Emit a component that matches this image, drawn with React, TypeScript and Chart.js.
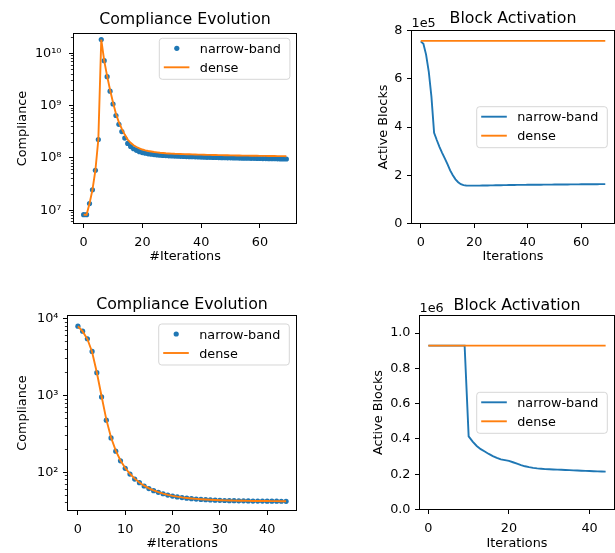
import React, { useEffect, useRef } from 'react';
import { Chart, registerables } from 'chart.js';

Chart.register(...registerables);

const FONT = "'DejaVu Sans', sans-serif";
const BLUE = '#1f77b4';
const ORANGE = '#ff7f0e';

// ---------- DATA ----------
const SERIES_NAMES = ['narrow-band', 'dense'];

// Top-left: Compliance Evolution (70 iterations)
const TL_NARROW = [
  8.2e6, 8.2e6, 1.34e7, 2.45e7, 5.8e7, 2.25e8, 1.85e10, 7.3e9, 3.6e9, 1.9e9,
  1.08e9, 6.5e8, 4.4e8, 3.2e8, 2.4e8, 1.9e8, 1.65e8, 1.5e8, 1.4e8, 1.32e8,
  1.27e8, 1.23e8, 1.2e8, 1.18e8, 1.16e8, 1.14e8, 1.13e8, 1.12e8, 1.11e8, 1.1e8,
  1.09e8, 1.085e8, 1.08e8, 1.075e8, 1.07e8, 1.065e8, 1.06e8, 1.055e8, 1.05e8, 1.045e8,
  1.04e8, 1.035e8, 1.03e8, 1.027e8, 1.024e8, 1.02e8, 1.017e8, 1.014e8, 1.01e8, 1.007e8,
  1.004e8, 1.0e8, 0.998e8, 0.995e8, 0.992e8, 0.99e8, 0.987e8, 0.985e8, 0.982e8, 0.98e8,
  0.977e8, 0.975e8, 0.972e8, 0.97e8, 0.967e8, 0.965e8, 0.962e8, 0.96e8, 0.957e8, 0.955e8,
];
const TL_DENSE = [
  8.2e6, 8.2e6, 1.34e7, 2.45e7, 5.8e7, 2.25e8, 1.85e10, 7.3e9, 3.7e9, 2.0e9,
  1.15e9, 7.0e8, 4.8e8, 3.6e8, 2.8e8, 2.25e8, 1.95e8, 1.75e8, 1.62e8, 1.52e8,
  1.45e8, 1.4e8, 1.36e8, 1.33e8, 1.3e8, 1.28e8, 1.26e8, 1.245e8, 1.23e8, 1.22e8,
  1.21e8, 1.2e8, 1.195e8, 1.19e8, 1.185e8, 1.18e8, 1.175e8, 1.17e8, 1.165e8, 1.16e8,
  1.156e8, 1.152e8, 1.148e8, 1.144e8, 1.14e8, 1.137e8, 1.134e8, 1.131e8, 1.128e8, 1.125e8,
  1.122e8, 1.119e8, 1.116e8, 1.113e8, 1.11e8, 1.108e8, 1.106e8, 1.104e8, 1.102e8, 1.1e8,
  1.098e8, 1.096e8, 1.094e8, 1.092e8, 1.09e8, 1.088e8, 1.086e8, 1.084e8, 1.082e8, 1.08e8,
];

// Top-right: Block Activation (70 iterations)
const TR_NARROW = [
  755000, 745000, 700000, 630000, 526000, 376000, 346000, 318000, 293000, 270000,
  246000, 220000, 200000, 183000, 171000, 163000, 159000, 157500, 157000, 157000,
  157000, 157000, 157200, 157400, 157600, 157800, 158000, 158200, 158400, 158600,
  158800, 159000, 159200, 159400, 159600, 159800, 160000, 160100, 160200, 160300,
  160400, 160500, 160600, 160700, 160800, 160900, 161000, 161100, 161200, 161300,
  161400, 161500, 161600, 161700, 161800, 161900, 162000, 162100, 162200, 162300,
  162400, 162500, 162600, 162700, 162800, 162900, 163000, 163100, 163200, 163300,
];
const TR_DENSE = [
  757000, 757000, 757000, 757000, 757000, 757000, 757000, 757000, 757000, 757000,
  757000, 757000, 757000, 757000, 757000, 757000, 757000, 757000, 757000, 757000,
  757000, 757000, 757000, 757000, 757000, 757000, 757000, 757000, 757000, 757000,
  757000, 757000, 757000, 757000, 757000, 757000, 757000, 757000, 757000, 757000,
  757000, 757000, 757000, 757000, 757000, 757000, 757000, 757000, 757000, 757000,
  757000, 757000, 757000, 757000, 757000, 757000, 757000, 757000, 757000, 757000,
  757000, 757000, 757000, 757000, 757000, 757000, 757000, 757000, 757000, 757000,
];

// Bottom-left: Compliance Evolution (45 iterations)
const BL_NARROW = [
  8020, 6900, 5500, 3760, 1990, 960, 478, 281, 189, 141.6,
  113, 95, 82, 73.4, 66.5, 61.5, 57.8, 55, 52.7, 50.7,
  49.2, 48, 47, 46.2, 45.5, 45, 44.5, 44.1, 43.8, 43.5,
  43.3, 43.1, 42.9, 42.8, 42.7, 42.6, 42.5, 42.4, 42.35, 42.3,
  42.25, 42.2, 42.15, 42.1, 42.05,
];
const BL_DENSE = [
  8000, 6850, 5450, 3700, 2000, 980, 490, 285, 192, 143,
  114, 96, 83, 74, 67.2, 62, 58.3, 55.4, 53, 51,
  49.5, 48.3, 47.3, 46.5, 45.8, 45.2, 44.7, 44.3, 44, 43.7,
  43.4, 43.2, 43, 42.9, 42.8, 42.7, 42.6, 42.5, 42.45, 42.4,
  42.35, 42.3, 42.25, 42.2, 42.15,
];

// Bottom-right: Block Activation (45 iterations)
const BR_NARROW = [
  929000, 929000, 929000, 929000, 929000, 929000, 929000, 929000, 929000, 929000,
  415000, 385000, 360000, 342000, 329000, 315000, 303000, 293000, 284000, 280000,
  276000, 268000, 260000, 252000, 245000, 240000, 236000, 233000, 231000, 229000,
  228000, 227000, 226000, 225000, 224000, 223000, 222000, 221000, 220000, 219000,
  218000, 217000, 216000, 215500, 215000,
];
const BR_DENSE = [
  929000, 929000, 929000, 929000, 929000, 929000, 929000, 929000, 929000, 929000,
  929000, 929000, 929000, 929000, 929000, 929000, 929000, 929000, 929000, 929000,
  929000, 929000, 929000, 929000, 929000, 929000, 929000, 929000, 929000, 929000,
  929000, 929000, 929000, 929000, 929000, 929000, 929000, 929000, 929000, 929000,
  929000, 929000, 929000, 929000, 929000,
];

// Tick values
const X_TICKS_70 = [0, 20, 40, 60];
const X_TICKS_BL = [0, 10, 20, 30, 40];
const X_TICKS_BR = [0, 20, 40];
const TL_LOG_MAJOR = [1e7, 1e8, 1e9, 1e10];
const TL_LOG_MINOR = [
  6e6, 7e6, 8e6, 9e6,
  2e7, 3e7, 4e7, 5e7, 6e7, 7e7, 8e7, 9e7,
  2e8, 3e8, 4e8, 5e8, 6e8, 7e8, 8e8, 9e8,
  2e9, 3e9, 4e9, 5e9, 6e9, 7e9, 8e9, 9e9,
  2e10,
];
const BL_LOG_MAJOR = [1e2, 1e3, 1e4];
const BL_LOG_MINOR = [
  40, 50, 60, 70, 80, 90,
  200, 300, 400, 500, 600, 700, 800, 900,
  2000, 3000, 4000, 5000, 6000, 7000, 8000, 9000,
];
const TR_Y_TICKS = [0, 200000, 400000, 600000, 800000];
const BR_Y_TICKS = [0, 200000, 400000, 600000, 800000, 1000000];
const SUPER: Record<string, string> = {
  '0': '\u2070', '1': '\u00B9', '2': '\u00B2', '3': '\u00B3', '4': '\u2074',
  '5': '\u2075', '6': '\u2076', '7': '\u2077', '8': '\u2078', '9': '\u2079',
};
const powLabel = (v: number) => {
  const e = Math.round(Math.log10(v));
  return '10' + String(e).split('').map((c) => SUPER[c]).join('');
};

type PanelCfg = {
  box: [number, number, number, number];
  area: [number, number, number, number];
  xMin: number; xMax: number; xTicks: number[];
  yLog: boolean; yMin: number; yMax: number;
  yMajor: number[]; yMinor: number[];
  yLabelFn: (v: number) => string; yPad: number;
  narrow: number[]; dense: number[]; dots: boolean;
  title: string; titleY: number;
  xLabel: string; xLabelY: number;
  yLabel: string; yLabelX: number;
  offsetText?: string;
  legend: { x: number; y: number };
};

const PANELS: PanelCfg[] = [
  {
    box: [0, 0, 307, 276], area: [73.5, 33.5, 296.5, 223.5],
    xMin: -3.45, xMax: 72.45, xTicks: X_TICKS_70,
    yLog: true, yMin: Math.pow(10, 6.745), yMax: Math.pow(10, 10.383),
    yMajor: TL_LOG_MAJOR, yMinor: TL_LOG_MINOR, yLabelFn: powLabel, yPad: 12,
    narrow: TL_NARROW, dense: TL_DENSE, dots: true,
    title: 'Compliance Evolution', titleY: 24,
    xLabel: '#Iterations', xLabelY: 260,
    yLabel: 'Compliance', yLabelX: 26,
    legend: { x: 159.3, y: 38.3 },
  },
  {
    box: [307, 0, 308, 276], area: [411.5, 30.5, 614.5, 223.5],
    xMin: -3.45, xMax: 72.45, xTicks: X_TICKS_70,
    yLog: false, yMin: 0, yMax: 800000,
    yMajor: TR_Y_TICKS, yMinor: [], yLabelFn: (v) => String(Math.round(v / 1e5)), yPad: 9,
    narrow: TR_NARROW, dense: TR_DENSE, dots: false,
    title: 'Block Activation', titleY: 22.5,
    xLabel: 'Iterations', xLabelY: 260,
    yLabel: 'Active Blocks', yLabelX: 386.5,
    offsetText: '1e5',
    legend: { x: 476.7, y: 106.7 },
  },
  {
    box: [0, 276, 307, 277], area: [67.5, 315.5, 296.5, 510.5],
    xMin: -2.2, xMax: 46.2, xTicks: X_TICKS_BL,
    yLog: true, yMin: Math.pow(10, 1.504), yMax: Math.pow(10, 4.043),
    yMajor: BL_LOG_MAJOR, yMinor: BL_LOG_MINOR, yLabelFn: powLabel, yPad: 9,
    narrow: BL_NARROW, dense: BL_DENSE, dots: true,
    title: 'Compliance Evolution', titleY: 309,
    xLabel: '#Iterations', xLabelY: 547,
    yLabel: 'Compliance', yLabelX: 26.3,
    legend: { x: 158.7, y: 324 },
  },
  {
    box: [307, 276, 308, 277], area: [419.5, 315.5, 614.5, 509.5],
    xMin: -2.2, xMax: 46.2, xTicks: X_TICKS_BR,
    yLog: false, yMin: 0, yMax: 1100000,
    yMajor: BR_Y_TICKS, yMinor: [], yLabelFn: (v) => (v / 1e6).toFixed(1), yPad: 9,
    narrow: BR_NARROW, dense: BR_DENSE, dots: false,
    title: 'Block Activation', titleY: 309.5,
    xLabel: 'Iterations', xLabelY: 546.5,
    yLabel: 'Active Blocks', yLabelX: 381.5,
    offsetText: '1e6',
    legend: { x: 476.7, y: 392.3 },
  },
];

function makeDecor(p: PanelCfg) {
  return {
    id: 'decor',
    afterDraw(chart: any) {
      const ctx: CanvasRenderingContext2D = chart.ctx;
      const a = chart.chartArea;
      const [cx, cy] = p.box;
      const xs = chart.scales.x;
      const ys = chart.scales.y;
      ctx.save();
      ctx.strokeStyle = '#000';
      ctx.fillStyle = '#000';
      // ticks
      ctx.lineWidth = 1;
      xs.ticks.forEach((t: any) => {
        const px = Math.round(xs.getPixelForValue(t.value) - 0.5) + 0.5;
        ctx.beginPath();
        ctx.moveTo(px, a.bottom);
        ctx.lineTo(px, a.bottom + 4.5);
        ctx.stroke();
      });
      ys.ticks.forEach((t: any) => {
        const major = p.yMajor.indexOf(t.value) >= 0;
        const py = Math.round(ys.getPixelForValue(t.value) - 0.5) + 0.5;
        ctx.lineWidth = major ? 1 : 0.8;
        ctx.beginPath();
        ctx.moveTo(a.left, py);
        ctx.lineTo(a.left - (major ? 4.5 : 2.6), py);
        ctx.stroke();
      });
      // frame
      ctx.lineWidth = 1;
      ctx.strokeRect(a.left, a.top, a.right - a.left, a.bottom - a.top);
      // title
      ctx.textAlign = 'center';
      ctx.textBaseline = 'alphabetic';
      ctx.font = `15.8px ${FONT}`;
      const midX = (a.left + a.right) / 2;
      ctx.fillText(p.title, midX, p.titleY - cy);
      // x label
      ctx.font = `12.8px ${FONT}`;
      ctx.fillText(p.xLabel, midX, p.xLabelY - cy);
      // y label
      ctx.save();
      ctx.translate(p.yLabelX - cx, (a.top + a.bottom) / 2);
      ctx.rotate(-Math.PI / 2);
      ctx.fillText(p.yLabel, 0, 0);
      ctx.restore();
      // offset text
      if (p.offsetText) {
        ctx.textAlign = 'left';
        ctx.fillText(p.offsetText, a.left, a.top - 3.5);
      }
      // legend
      const lx = p.legend.x - cx;
      const ly = p.legend.y - cy;
      const lw = 130.6;
      const lh = 41;
      ctx.beginPath();
      ctx.roundRect(lx, ly, lw, lh, 3);
      ctx.fillStyle = 'rgba(255,255,255,0.8)';
      ctx.fill();
      ctx.strokeStyle = 'rgba(204,204,204,0.8)';
      ctx.lineWidth = 1;
      ctx.stroke();
      const colors = [BLUE, ORANGE];
      SERIES_NAMES.forEach((name, i) => {
        const yy = ly + 10 + i * 19;
        if (i === 0 && p.dots) {
          ctx.fillStyle = BLUE;
          ctx.beginPath();
          ctx.arc(lx + 17.5, yy, 2.6, 0, Math.PI * 2);
          ctx.fill();
        } else {
          ctx.strokeStyle = colors[i];
          ctx.lineWidth = 1.9;
          ctx.beginPath();
          ctx.moveTo(lx + 4.5, yy);
          ctx.lineTo(lx + 30.1, yy);
          ctx.stroke();
        }
        ctx.fillStyle = '#000';
        ctx.textAlign = 'left';
        ctx.font = `12.8px ${FONT}`;
        ctx.fillText(name, lx + 40.5, yy + 4.5);
      });
      ctx.restore();
    },
  };
}

function makeChart(canvas: HTMLCanvasElement, p: PanelCfg) {
  const [cx, cy, cw, ch] = p.box;
  const [L, T, R, B] = p.area;
  const yTicks = p.yMajor.concat(p.yMinor).sort((m, n) => m - n);
  const narrowDs: any = {
    label: SERIES_NAMES[0],
    data: p.narrow.map((v, i) => ({ x: i, y: v })),
    order: 2,
    borderColor: BLUE,
    backgroundColor: BLUE,
    borderWidth: 1.9,
    tension: 0,
    showLine: !p.dots,
    pointRadius: p.dots ? 2.6 : 0,
    pointBorderWidth: 0,
    pointBackgroundColor: BLUE,
    fill: false,
  };
  const denseDs: any = {
    label: SERIES_NAMES[1],
    data: p.dense.map((v, i) => ({ x: i, y: v })),
    order: 1,
    borderColor: ORANGE,
    backgroundColor: ORANGE,
    borderWidth: 1.9,
    tension: 0,
    pointRadius: 0,
    fill: false,
  };
  return new Chart(canvas, {
    type: 'line',
    data: { datasets: [narrowDs, denseDs] },
    options: {
      animation: false,
      responsive: false,
      devicePixelRatio: 1,
      events: [],
      layout: { padding: { left: 0, top: T - cy, right: cx + cw - R, bottom: 0 } },
      plugins: {
        legend: { display: false },
        title: { display: false },
        tooltip: { enabled: false },
      },
      scales: {
        x: {
          type: 'linear',
          bounds: 'data',
          min: p.xMin,
          max: p.xMax,
          grid: { display: false, drawTicks: false },
          border: { display: false },
          ticks: {
            autoSkip: false,
            maxRotation: 0,
            padding: 11.5,
            color: '#000',
            font: { family: FONT, size: 12.8 },
            callback: (v: any) => String(v),
          },
          afterBuildTicks: (s: any) => {
            s.ticks = p.xTicks.map((v) => ({ value: v }));
          },
          afterFit: (s: any) => {
            s.height = cy + ch - B;
          },
        },
        y: {
          type: p.yLog ? 'logarithmic' : 'linear',
          bounds: 'data',
          min: p.yMin,
          max: p.yMax,
          grid: { display: false, drawTicks: false },
          border: { display: false },
          ticks: {
            autoSkip: false,
            padding: p.yPad,
            color: '#000',
            font: { family: FONT, size: 12.8 },
            callback: (v: any) => (p.yMajor.indexOf(v) >= 0 ? p.yLabelFn(v) : ''),
          },
          afterBuildTicks: (s: any) => {
            s.ticks = yTicks.map((v) => ({ value: v, major: p.yMajor.indexOf(v) >= 0 }));
          },
          afterFit: (s: any) => {
            s.width = L - cx;
          },
        },
      },
    } as any,
    plugins: [makeDecor(p)],
  });
}

export default function App() {
  const refs = useRef<(HTMLCanvasElement | null)[]>([]);
  useEffect(() => {
    const charts = PANELS.map((p, i) => makeChart(refs.current[i] as HTMLCanvasElement, p));
    return () => charts.forEach((c) => c.destroy());
  }, []);
  return (
    <div style={{ position: 'absolute', left: 0, top: 0, width: 615, height: 553, background: '#fff', overflow: 'hidden' }}>
      {PANELS.map((p, i) => (
        <canvas
          key={i}
          ref={(el) => { refs.current[i] = el; }}
          width={p.box[2]}
          height={p.box[3]}
          style={{ position: 'absolute', left: p.box[0], top: p.box[1], width: p.box[2], height: p.box[3], display: 'block' }}
        />
      ))}
    </div>
  );
}
